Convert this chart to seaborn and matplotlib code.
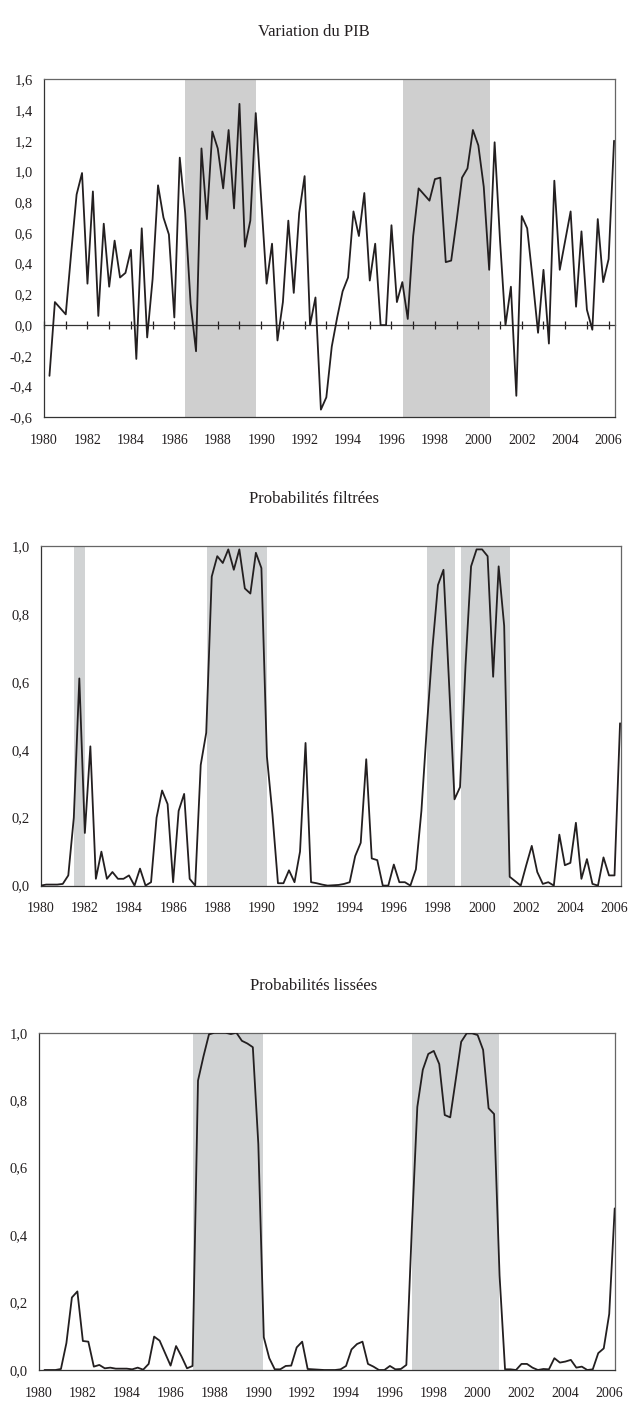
import numpy as np
import pandas as pd
import seaborn as sns
import matplotlib.pyplot as plt
from matplotlib.ticker import FuncFormatter, MultipleLocator

# trimestres (position = année + (trimestre-1)/4)
trim_pib = pd.period_range("1980Q2", "2006Q2", freq="Q")
trim_filt = pd.period_range("1980Q1", "2006Q2", freq="Q")
trim_lisse = pd.period_range("1980Q2", "2006Q2", freq="Q")

# variation trimestrielle du PIB (%)
pib = [-0.33, 0.15, 0.11, 0.07, 0.47, 0.85, 0.99, 0.27, 0.87, 0.06,
       0.66, 0.25, 0.55, 0.31, 0.34, 0.49, -0.22, 0.63, -0.08, 0.30,
       0.91, 0.70, 0.59, 0.05, 1.09, 0.73, 0.14, -0.17, 1.15, 0.69,
       1.26, 1.15, 0.89, 1.27, 0.76, 1.44, 0.51, 0.68, 1.38, 0.82,
       0.27, 0.53, -0.10, 0.15, 0.68, 0.21, 0.73, 0.97, 0.00, 0.18,
       -0.55, -0.47, -0.14, 0.05, 0.22, 0.31, 0.74, 0.58, 0.86, 0.29,
       0.53, 0.00, 0.00, 0.65, 0.15, 0.28, 0.04, 0.58, 0.89, 0.85,
       0.81, 0.95, 0.96, 0.41, 0.42, 0.68, 0.96, 1.02, 1.27, 1.17,
       0.90, 0.36, 1.19, 0.55, 0.00, 0.25, -0.46, 0.71, 0.63, 0.30,
       -0.05, 0.36, -0.12, 0.94, 0.36, 0.55, 0.74, 0.12, 0.61, 0.10,
       -0.03, 0.69, 0.28, 0.43, 1.20]

# probabilités filtrées
filt = [0.00, 0.003, 0.003, 0.003, 0.005, 0.03, 0.20, 0.61, 0.155, 0.41,
        0.02, 0.10, 0.02, 0.04, 0.02, 0.02, 0.03, 0.00, 0.05, 0.00,
        0.01, 0.20, 0.28, 0.24, 0.01, 0.22, 0.27, 0.02, 0.00, 0.355,
        0.45, 0.91, 0.97, 0.95, 0.99, 0.93, 0.99, 0.875, 0.86, 0.98,
        0.935, 0.38, 0.21, 0.007, 0.007, 0.045, 0.01, 0.10, 0.42, 0.01,
        0.007, 0.003, 0.00, 0.001, 0.002, 0.005, 0.01, 0.087, 0.126, 0.372,
        0.08, 0.075, 0.00, 0.00, 0.062, 0.01, 0.01, 0.00, 0.048, 0.22,
        0.47, 0.70, 0.885, 0.93, 0.60, 0.254, 0.29, 0.65, 0.94, 0.99,
        0.99, 0.97, 0.615, 0.94, 0.765, 0.026, 0.013, 0.00, 0.06, 0.117,
        0.04, 0.005, 0.01, 0.00, 0.15, 0.06, 0.067, 0.185, 0.02, 0.078,
        0.005, 0.00, 0.083, 0.03, 0.03, 0.478]

# probabilités lissées
lisse = [0.0, 0.0, 0.0, 0.003, 0.08, 0.215, 0.233, 0.086, 0.084, 0.01,
         0.015, 0.005, 0.007, 0.004, 0.004, 0.004, 0.002, 0.007, 0.001, 0.018,
         0.099, 0.087, 0.05, 0.013, 0.071, 0.04, 0.005, 0.012, 0.858, 0.93,
         0.995, 1.0, 1.0, 1.0, 0.996, 1.0, 0.976, 0.968, 0.957, 0.67,
         0.097, 0.035, 0.002, 0.002, 0.012, 0.013, 0.067, 0.084, 0.003, 0.002,
         0.001, 0.0, 0.0, 0.0, 0.002, 0.012, 0.061, 0.077, 0.084, 0.018,
         0.01, 0.0, 0.0, 0.012, 0.002, 0.003, 0.015, 0.42, 0.78, 0.89,
         0.937, 0.946, 0.907, 0.756, 0.749, 0.86, 0.973, 0.998, 0.998, 0.993,
         0.949, 0.776, 0.759, 0.28, 0.002, 0.002, 0.0, 0.018, 0.018, 0.007,
         0.0, 0.003, 0.002, 0.035, 0.022, 0.025, 0.03, 0.007, 0.01, 0.0,
         0.002, 0.05, 0.064, 0.166, 0.479]

# périodes grisées (début, fin) en années
zones_pib = [(1986.5, 1989.77), (1996.53, 2000.55)]
zones_filt = [(1981.51, 1982.01), (1987.53, 1990.27), (1997.52, 1998.77), (1999.04, 2001.26)]
zones_lisse = [(1987.0, 1990.23), (1997.02, 2000.99)]

titres = ["Variation du PIB", "Probabilités filtrées", "Probabilités lissées"]


def en_annees(periodes):
    return periodes.year + (periodes.quarter - 1) / 4


W, H = 628, 1403
sns.set_style("white")
plt.rcParams["font.family"] = ["Liberation Serif", "DejaVu Serif"]

fig = plt.figure(figsize=(W / 100, H / 100), dpi=100)

# cadres des panneaux en pixels (gauche, haut, droite, bas)
cadres = [(43.6, 79.3, 614.7, 417.3), (40.7, 546, 620.7, 885.6), (39, 1032.7, 614.7, 1370)]
# ligne de base des titres (px)
titres_y = [36, 503, 989.5]

series = [(trim_pib, pib, zones_pib, "#cfcfcf", (-0.6, 1.6), (1979.98, 2006.28)),
          (trim_filt, filt, zones_filt, "#d1d3d4", (0, 1.0), (1980.0, 2006.28)),
          (trim_lisse, lisse, zones_lisse, "#d1d3d4", (0, 1.0), (1980.0, 2006.25))]

virgule = FuncFormatter(lambda v, p: f"{v:.1f}".replace(".", ","))
annees = FuncFormatter(lambda v, p: f"{int(round(v))}" if int(round(v)) % 2 == 0 else "")

for k, (trim, vals, zones, gris, ylim, xlim) in enumerate(series):
    g, h, d, b = cadres[k]
    ax = fig.add_axes([g / W, 1 - b / H, (d - g) / W, (b - h) / H])
    for debut, fin in zones:
        ax.axvspan(debut, fin, color=gris, lw=0, zorder=0)
    df = pd.DataFrame({"t": en_annees(trim), "v": vals})
    sns.lineplot(data=df, x="t", y="v", ax=ax, color="#231f20", lw=1.3, zorder=3)
    ax.set_xlim(*xlim)
    ax.set_ylim(*ylim)
    ax.set_xlabel("")
    ax.set_ylabel("")
    ax.xaxis.set_major_locator(MultipleLocator(1))
    ax.xaxis.set_major_formatter(annees)
    ax.yaxis.set_major_locator(MultipleLocator(0.2))
    ax.yaxis.set_major_formatter(virgule)
    ax.tick_params(axis="both", direction="inout", length=6, width=0.9,
                   color="#231f20", labelcolor="#231f20")
    ax.tick_params(axis="x", pad=9, labelsize=10)
    ax.tick_params(axis="y", pad=5, labelsize=10.5)
    for cote in ["top", "right"]:
        ax.spines[cote].set_color("#666666")
        ax.spines[cote].set_linewidth(0.9)
    for cote in ["left", "bottom"]:
        ax.spines[cote].set_color("#333333")
        ax.spines[cote].set_linewidth(0.9)
    if ylim[0] < 0:
        # axe horizontal qui coupe en zéro
        pos0 = (0 - ylim[0]) / (ylim[1] - ylim[0])
        sec = ax.secondary_xaxis(pos0)
        sec.xaxis.set_major_locator(MultipleLocator(1))
        sec.tick_params(direction="inout", length=6, width=0.9, color="#231f20", labelbottom=False)
        sec.spines["bottom"].set_color("#333333")
        sec.spines["bottom"].set_linewidth(0.9)
    fig.text(0.5, 1 - titres_y[k] / H, titres[k], ha="center", va="baseline",
             fontsize=12, color="#231f20")

fig.savefig("out.png", dpi=100)
